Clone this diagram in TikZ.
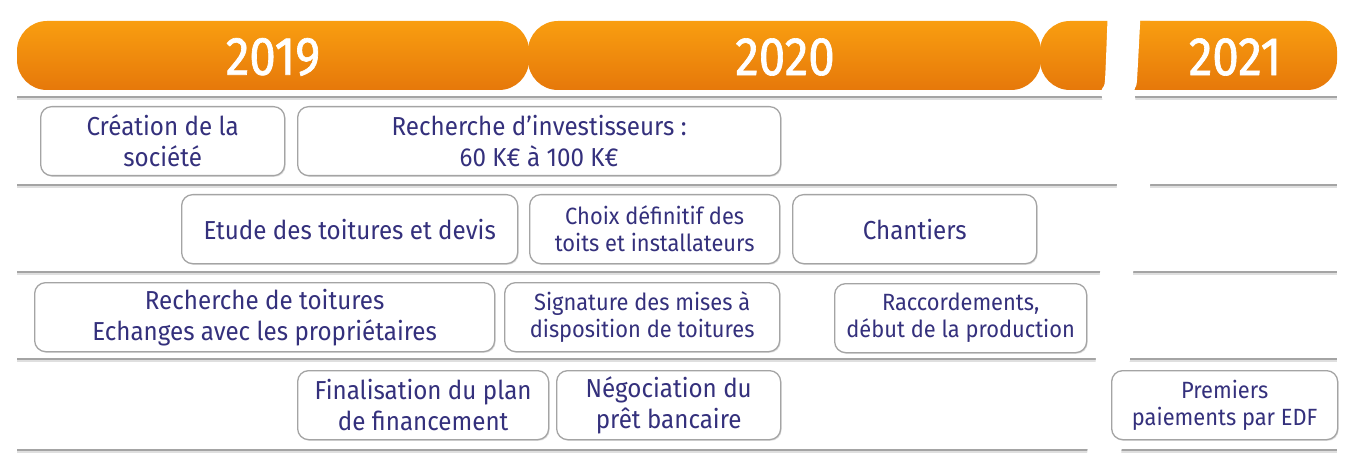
\documentclass[tikz,border=0pt]{standalone}
\usepackage{fontspec}
\setmainfont{Fira Sans}[FakeStretch=0.93]
\newfontfamily\yearfont{Fira Sans}[FakeStretch=0.88, FakeBold=1.2]
\usetikzlibrary{shadows}
\definecolor{txt}{HTML}{34307C}
\definecolor{orgtop}{HTML}{F99E10}
\definecolor{orgbot}{HTML}{E6780A}
\definecolor{lineg}{HTML}{A4A4A4}
\tikzset{
  evt/.style={draw=lineg, line width=1.3pt, rounded corners=11pt, fill=white,
    align=center, text=txt, inner sep=0pt, anchor=north west,
    drop shadow={opacity=0.25, shadow xshift=1pt, shadow yshift=-1.2pt},
    font=\fontsize{26}{31}\selectfont},
  small/.style={font=\fontsize{23.5}{27}\selectfont},
  bar/.style={top color=orgtop, bottom color=orgbot, rounded corners=30pt},
  yr/.style={text=white, font=\yearfont\fontsize{54}{54}\selectfont, inner sep=0pt},
  sep/.style={draw=lineg, line width=2.2pt},
  sepsh/.style={draw=lineg!35, line width=2pt}
}
\begin{document}
\begin{tikzpicture}[x=1pt,y=-1pt]
\useasboundingbox (0,0) rectangle (1351,473);
% header bars
\path[bar] (1040,21) rectangle (1180,90);
\path[bar] (1110,21) rectangle (1337,90);
\path[bar] (528,21) rectangle (1041,90);
\path[bar] (17,21) rectangle (529,90);
\node[yr] (y2019) at (273,57) {2019};
\node[yr] (y2020) at (785,57) {2020};
\node[yr] (y2021) at (1235,57) {2021};
% separator lines
\foreach \yy in {97,185,272,359,450} {
  \draw[sepsh] (17,\yy+2) -- (1337,\yy+2);
  \draw[sep] (17,\yy) -- (1337,\yy);
}
% break gap
\fill[white] plot[smooth] coordinates {(1108,5) (1105,80) (1102,97) (1117,185) (1100,273) (1096,357) (1087,455) (1085,473)}
  -- plot[smooth] coordinates {(1119,473) (1121,455) (1130,357) (1133,273) (1150,185) (1135,97) (1137,80) (1141,5)} -- cycle;
% events
\node[evt, minimum width=244pt, minimum height=69pt] (crea) at (40,106) {Création de la\\société};
\node[evt, minimum width=483pt, minimum height=69pt] (invest) at (297,106) {Recherche d’investisseurs :\\60 K€ à 100 K€};
\node[evt, minimum width=336pt, minimum height=69pt] (etude) at (181,194) {Etude des toitures et devis};
\node[evt, small, minimum width=250pt, minimum height=69pt] (choix) at (529,194) {Choix définitif des\\toits et installateurs};
\node[evt, minimum width=244pt, minimum height=69pt] (chant) at (792,194) {Chantiers};
\node[evt, minimum width=460pt, minimum height=69pt] (rtoit) at (34,282) {Recherche de toitures\\Echanges avec les propriétaires};
\node[evt, small, minimum width=275pt, minimum height=69pt] (sign) at (504,282) {Signature des mises à\\disposition de toitures};
\node[evt, small, minimum width=252pt, minimum height=69pt] (racc) at (834,283) {Raccordements,\\début de la production};
\node[evt, minimum width=251pt, minimum height=69pt] (finpl) at (297,370) {Finalisation du plan\\de financement};
\node[evt, minimum width=224pt, minimum height=69pt] (nego) at (556,370) {Négociation du\\prêt bancaire};
\node[evt, small, minimum width=226pt, minimum height=69pt] (edf) at (1111,370) {Premiers\\paiements par EDF};
\end{tikzpicture}
\end{document}
